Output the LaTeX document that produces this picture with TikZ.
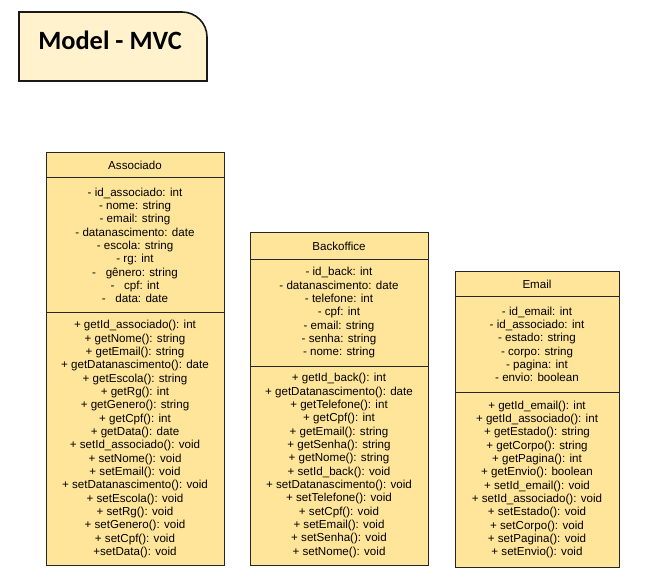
\documentclass[tikz,border=0pt]{standalone}
\usepackage{fontspec}
\setmainfont{Liberation Sans}
\newfontfamily\titlefont{Carlito}
\usetikzlibrary{positioning}

\definecolor{classfill}{HTML}{FFE599}
\definecolor{titlefill}{HTML}{FFF2CC}

\tikzset{
  umlpart/.style={draw=black!85, fill=classfill, line width=0.75pt,
    inner sep=0pt, outer sep=0pt, align=center,
    font=\fontsize{8.7}{10}\selectfont},
  classhead/.style={umlpart, minimum width=#1},
  classbody/.style={umlpart, minimum width=#1},
}

\begin{document}
\begin{tikzpicture}[x=0.75pt, y=-0.75pt]
  \useasboundingbox (0,0) rectangle (664,577);

  % title card
  \filldraw[fill=titlefill, draw=black!90, line width=1.2pt]
    (19,12) -- (182,12) arc[start angle=90, end angle=0, radius=18.75pt]
    -- (207,81) -- (19,81) -- cycle;
  \node[font=\titlefont\bfseries\fontsize{19.8}{22}\selectfont] (title) at (110,40) {Model - MVC};

  % Associado
  \node[classhead=133.5pt, minimum height=18.75pt, anchor=north west] (assocHead) at (46,153) {Associado};
  \node[classbody=133.5pt, minimum height=101.25pt, below=0pt of assocHead] (assocAttr) {
    - id\_associado: int\\
    - nome: string\\
    - email: string\\
    - datanascimento: date\\
    - escola: string\\
    - rg: int\\
    -\ \ \ gênero: string\\
    -\ \ \ cpf: int\\
    -\ \ \ data: date};
  \node[classbody=133.5pt, minimum height=189pt, below=0pt of assocAttr] (assocOps) {
    + getId\_associado(): int\\
    + getNome(): string\\
    + getEmail(): string\\
    + getDatanascimento(): date\\
    + getEscola(): string\\
    + getRg(): int\\
    + getGenero(): string\\
    + getCpf(): int\\
    + getData(): date\\
    + setId\_associado(): void\\
    + setNome(): void\\
    + setEmail(): void\\
    + setDatanascimento(): void\\
    + setEscola(): void\\
    + setRg(): void\\
    + setGenero(): void\\
    + setCpf(): void\\
    +setData(): void};

  % Backoffice
  \node[classhead=133.5pt, minimum height=20.25pt, anchor=north west] (backHead) at (250,233) {Backoffice};
  \node[classbody=133.5pt, minimum height=79.5pt, below=0pt of backHead] (backAttr) {
    - id\_back: int\\
    - datanascimento: date\\
    - telefone: int\\
    - cpf: int\\
    - email: string\\
    - senha: string\\
    - nome: string};
  \node[classbody=133.5pt, minimum height=149.25pt, below=0pt of backAttr] (backOps) {
    + getId\_back(): int\\
    + getDatanascimento(): date\\
    + getTelefone(): int\\
    + getCpf(): int\\
    + getEmail(): string\\
    + getSenha(): string\\
    + getNome(): string\\
    + setId\_back(): void\\
    + setDatanascimento(): void\\
    + setTelefone(): void\\
    + setCpf(): void\\
    + setEmail(): void\\
    + setSenha(): void\\
    + setNome(): void};

  % Email
  \node[classhead=123pt, minimum height=18.75pt, anchor=north west] (mailHead) at (455,272) {Email};
  \node[classbody=123pt, minimum height=71.25pt, below=0pt of mailHead] (mailAttr) {
    - id\_email: int\\
    - id\_associado: int\\
    - estado: string\\
    - corpo: string\\
    - pagina: int\\
    - envio: boolean};
  \node[classbody=123pt, minimum height=131.25pt, below=0pt of mailAttr] (mailOps) {
    + getId\_email(): int\\
    + getId\_associado(): int\\
    + getEstado(): string\\
    + getCorpo(): string\\
    + getPagina(): int\\
    + getEnvio(): boolean\\
    + setId\_email(): void\\
    + setId\_associado(): void\\
    + setEstado(): void\\
    + setCorpo(): void\\
    + setPagina(): void\\
    + setEnvio(): void};
\end{tikzpicture}
\end{document}
